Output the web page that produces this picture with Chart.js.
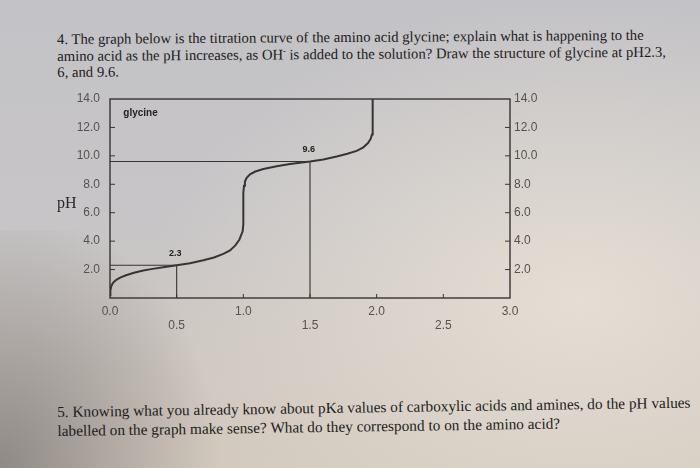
<!DOCTYPE html>
<html>
<head>
<meta charset="utf-8">
<script src="https://cdn.jsdelivr.net/npm/chart.js@4/dist/chart.umd.min.js"></script>
<style>
  html, body { margin: 0; padding: 0; }
  body {
    width: 700px; height: 468px; overflow: hidden; position: relative;
    background:
      radial-gradient(ellipse 430px 300px at 580px 300px, rgba(230,223,212,0.95), rgba(230,223,212,0) 100%),
      linear-gradient(to bottom, #c3c2c6 0%, #c7c5c7 45%, #d3c9bd 100%);
  }
  #shade {
    position: absolute; left: 0; top: 230px; width: 260px; height: 238px;
    background: radial-gradient(ellipse 220px 260px at 0px 238px, rgba(120,116,116,0.75), rgba(120,116,116,0) 100%);
  }
  .q {
    position: absolute; left: 57px; color: #1c1c20;
    font-family: "Liberation Serif", "Times New Roman", serif;
    font-size: 14.7px; line-height: 16.5px; white-space: nowrap;
    transform-origin: 0 0;
  }
  .q sup { font-size: 8px; line-height: 0; vertical-align: 0; position: relative; top: -6px; }
  #q4 { top: 31px; transform: rotate(-0.4deg); }
  #q5 { top: 402px; transform: rotate(-0.85deg); font-size: 15.3px; line-height: 19px; }
  #wrap { position: absolute; left: 0; top: 0; width: 700px; height: 468px; }
</style>
</head>
<body>
<div id="shade"></div>
<div class="q" id="q4">4. The graph below is the titration curve of the amino acid glycine; explain what is happening to the<br>amino acid as the pH increases, as OH<sup>-</sup> is added to the solution? Draw the structure of glycine at pH2.3,<br>6, and 9.6.</div>
<div class="q" id="q5">5. Knowing what you already know about pKa values of carboxylic acids and amines, do the pH values<br>labelled on the graph make sense? What do they correspond to on the amino acid?</div>
<div id="wrap"><canvas id="c" width="700" height="468"></canvas></div>
<script>
// Equivalents of OH- added
const equivalentsOH = [0, 0.003, 0.01, 0.025, 0.05, 0.08, 0.12, 0.18, 0.25, 0.32, 0.4, 0.5, 0.6, 0.7, 0.78, 0.85, 0.9, 0.94, 0.97, 0.985, 0.995, 1.0, 1.0, 1.005, 1.012, 1.025, 1.05, 1.09, 1.15, 1.25, 1.35, 1.5, 1.6, 1.7, 1.78, 1.85, 1.9, 1.935, 1.955, 1.965, 1.97, 1.97];
// Measured pH along the titration
const phValues = [0.2, 0.55, 0.85, 1.1, 1.3, 1.45, 1.6, 1.78, 1.93, 2.05, 2.17, 2.3, 2.45, 2.65, 2.85, 3.1, 3.35, 3.7, 4.1, 4.45, 4.7, 5.2, 7.4, 7.9, 8.2, 8.45, 8.7, 8.9, 9.08, 9.27, 9.42, 9.6, 9.75, 9.95, 10.15, 10.35, 10.6, 10.9, 11.2, 11.5, 11.9, 14.0];
// pKa markers: [equivalents, pH]
const pKa1 = [0.5, 2.3];
const pKa2 = [1.5, 9.6];
const pKaLabels = ['2.3', '9.6'];
const compoundName = 'glycine';
const yTickValues = [2, 4, 6, 8, 10, 12, 14];
const xTickValues = [0, 0.5, 1.0, 1.5, 2.0, 2.5, 3.0];

const AREA = { left: 110, right: 510, top: 99, bottom: 298 };
const INK = '#383434';
const TICK_INK = '#55524f';

const curve = equivalentsOH.map((x, i) => ({ x, y: phValues[i] }));
const marker = p => [{ x: 0, y: p[1] }, { x: p[0], y: p[1] }, { x: p[0], y: 0 }];

const frame = {
  id: 'frame',
  afterDatasetsDraw(chart) {
    const { ctx, chartArea: a, scales } = chart;
    ctx.save();
    ctx.strokeStyle = INK;
    ctx.lineWidth = 1.4;
    ctx.strokeRect(a.left, a.top, a.right - a.left, a.bottom - a.top);
    // inward tick marks
    ctx.lineWidth = 1;
    yTickValues.forEach(v => {
      if (v >= 14) return;
      const y = scales.y.getPixelForValue(v);
      ctx.beginPath(); ctx.moveTo(a.left, y); ctx.lineTo(a.left + 5, y); ctx.stroke();
      ctx.beginPath(); ctx.moveTo(a.right - 5, y); ctx.lineTo(a.right, y); ctx.stroke();
    });
    xTickValues.forEach(v => {
      if (v <= 0 || v >= 3) return;
      const x = scales.x.getPixelForValue(v);
      ctx.beginPath(); ctx.moveTo(x, a.bottom); ctx.lineTo(x, a.bottom - 4); ctx.stroke();
    });
    // annotations
    ctx.fillStyle = '#222';
    ctx.font = 'bold 9px "Liberation Sans", Arial, sans-serif';
    ctx.textAlign = 'center'; ctx.textBaseline = 'middle';
    ctx.fillText(pKaLabels[0], scales.x.getPixelForValue(pKa1[0] - 0.01), scales.y.getPixelForValue(pKa1[1] + 0.8));
    ctx.fillText(pKaLabels[1], scales.x.getPixelForValue(pKa2[0] - 0.01), scales.y.getPixelForValue(pKa2[1] + 0.85));
    ctx.font = 'bold 10px "Liberation Sans", Arial, sans-serif';
    ctx.textAlign = 'left';
    ctx.fillText(compoundName, scales.x.getPixelForValue(0.1), scales.y.getPixelForValue(13.0));
    // y-axis title
    ctx.fillStyle = '#2a2828';
    ctx.font = '16px "Liberation Serif", "Times New Roman", serif';
    ctx.textAlign = 'left';
    ctx.fillText('pH', 57, scales.y.getPixelForValue(6.6));
    ctx.restore();
  }
};

const tickFont = { family: '"Liberation Sans", Arial, sans-serif', size: 12 };

new Chart(document.getElementById('c'), {
  type: 'line',
  data: {
    datasets: [
      { data: curve, borderColor: INK, borderWidth: 2, pointRadius: 0, tension: 0, fill: false },
      { data: marker(pKa1), borderColor: INK, borderWidth: 1.1, pointRadius: 0, tension: 0, fill: false },
      { data: marker(pKa2), borderColor: INK, borderWidth: 1.1, pointRadius: 0, tension: 0, fill: false }
    ]
  },
  options: {
    responsive: false,
    animation: false,
    events: [],
    layout: { padding: { top: AREA.top, left: 0, right: 0, bottom: 0 } },
    plugins: { legend: { display: false }, tooltip: { enabled: false } },
    scales: {
      x: {
        type: 'linear', position: 'bottom', min: 0, max: 3,
        afterBuildTicks: s => { s.ticks = xTickValues.map(value => ({ value })); },
        afterFit: s => { s.height = 468 - AREA.bottom; },
        grid: { display: false, drawTicks: false },
        border: { display: false },
        ticks: {
          color: TICK_INK, font: tickFont, padding: 6, maxRotation: 0, autoSkip: false,
          callback: v => (Math.round(v * 2) % 2 === 1 ? ['', v.toFixed(1)] : v.toFixed(1))
        }
      },
      y: {
        position: 'left', min: 0, max: 14,
        afterBuildTicks: s => { s.ticks = yTickValues.map(value => ({ value })); },
        afterFit: s => { s.width = AREA.left; },
        grid: { display: false, drawTicks: false },
        border: { display: false },
        ticks: { color: TICK_INK, font: tickFont, padding: 10, callback: v => v.toFixed(1) }
      },
      y2: {
        position: 'right', min: 0, max: 14,
        afterBuildTicks: s => { s.ticks = yTickValues.map(value => ({ value })); },
        afterFit: s => { s.width = 700 - AREA.right; },
        grid: { display: false, drawTicks: false },
        border: { display: false },
        ticks: { color: TICK_INK, font: tickFont, padding: 4, callback: v => v.toFixed(1) }
      }
    }
  },
  plugins: [frame]
});
</script>
</body>
</html>
